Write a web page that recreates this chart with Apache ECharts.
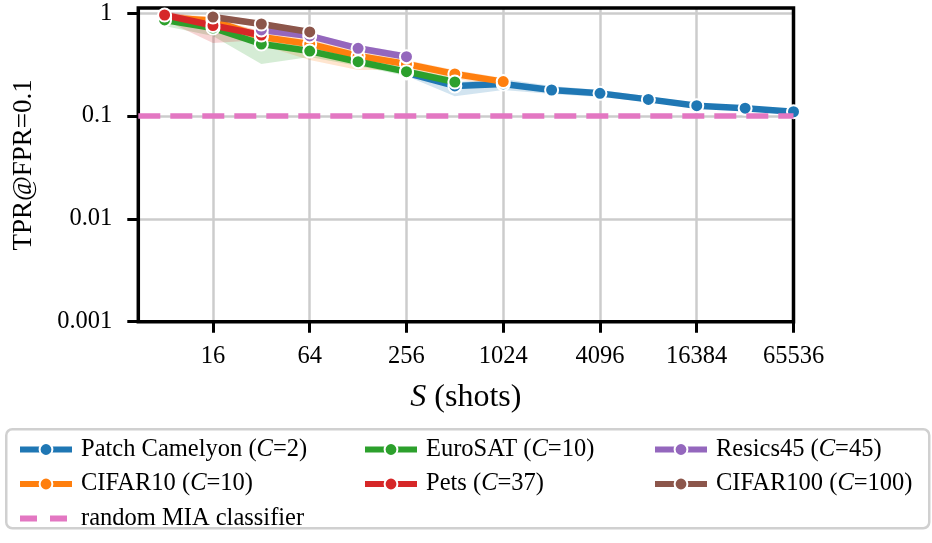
<!DOCTYPE html>
<html><head><meta charset="utf-8">
<script src="https://cdn.jsdelivr.net/npm/echarts@6/dist/echarts.min.js"></script>
<style>html,body{margin:0;padding:0;background:#fff}#c{width:932px;height:543px}</style>
</head><body><div id="c"></div>
<script>
// ---- axis ticks ----
const xTickLabels = ['16', '64', '256', '1024', '4096', '16384', '65536'];
const yTickLabels = ['0.001', '0.01', '0.1', '1'];
const xMin = 5.49, xMax = 65536, yMin = 0.001, yMax = 1.122;
const randomLevel = 0.1;

// ---- series (S = shots, TPR@FPR=0.1) ----
const seriesNames = ['Patch Camelyon', 'CIFAR10', 'EuroSAT', 'Pets', 'Resics45', 'CIFAR100'];
const classCounts = [2, 10, 10, 37, 45, 100];
const colors = ['#1f77b4', '#ff7f0e', '#2ca02c', '#d62728', '#9467bd', '#8c564b'];
const randomColor = '#e377c2';

const pcamShots = [256, 512, 1024, 2048, 4096, 8192, 16384, 32768, 65536];
const pcamTpr   = [0.262, 0.196, 0.205, 0.179, 0.166, 0.145, 0.126, 0.119, 0.110];
const pcamLow   = [0.245, 0.156, 0.179, 0.164, 0.153, 0.137, 0.120, 0.112, 0.104];
const pcamHigh  = [0.280, 0.214, 0.229, 0.196, 0.179, 0.156, 0.134, 0.125, 0.117];

const cifar10Shots = [8, 16, 32, 64, 128, 256, 512, 1024];
const cifar10Tpr   = [0.907, 0.848, 0.586, 0.501, 0.383, 0.320, 0.256, 0.216];
const cifar10Low   = [0.802, 0.750, 0.490, 0.350, 0.280, 0.280, 0.229, 0.196];
const cifar10High  = [1.003, 0.917, 0.656, 0.561, 0.428, 0.350, 0.280, 0.234];

const eurosatShots = [8, 16, 32, 64, 128, 256, 512];
const eurosatTpr   = [0.858, 0.717, 0.501, 0.428, 0.337, 0.270, 0.214];
const eurosatLow   = [0.750, 0.600, 0.320, 0.375, 0.306, 0.245, 0.196];
const eurosatHigh  = [0.938, 0.784, 0.548, 0.469, 0.366, 0.293, 0.234];

const petsShots = [8, 16, 32];
const petsTpr   = [0.959, 0.758, 0.613];
const petsLow   = [0.858, 0.513, 0.548];
const petsHigh  = [1.049, 0.858, 0.671];

const resicsShots = [32, 64, 128, 256];
const resicsTpr   = [0.686, 0.600, 0.455, 0.377];
const resicsLow   = [0.641, 0.561, 0.428, 0.350];
const resicsHigh  = [0.733, 0.641, 0.490, 0.410];

const cifar100Shots = [16, 32, 64];
const cifar100Tpr   = [0.917, 0.784, 0.656];
const cifar100Low   = [0.858, 0.733, 0.613];
const cifar100High  = [0.981, 0.839, 0.701];

const allShots = [pcamShots, cifar10Shots, eurosatShots, petsShots, resicsShots, cifar100Shots];
const allTpr   = [pcamTpr, cifar10Tpr, eurosatTpr, petsTpr, resicsTpr, cifar100Tpr];
const allLow   = [pcamLow, cifar10Low, eurosatLow, petsLow, resicsLow, cifar100Low];
const allHigh  = [pcamHigh, cifar10High, eurosatHigh, petsHigh, resicsHigh, cifar100High];

// ---- build ----
const FONT = 'Liberation Serif';
const xTickVals = xTickLabels.map(s => Math.log2(Number(s)));
const yTickVals = yTickLabels.map(s => Math.log10(Number(s)));
function pickLabel(vals, labels) {
  return v => { const i = vals.findIndex(t => Math.abs(t - v) < 1e-6); return i >= 0 ? labels[i] : ''; };
}

const series = [];
seriesNames.forEach((name, k) => {
  const shots = allShots[k], low = allLow[k], high = allHigh[k], color = colors[k];
  series.push({
    type: 'custom', xAxisIndex: 0, yAxisIndex: 0, z: 1, silent: true, clip: true,
    data: [[shots[0], allTpr[k][0]]],
    renderItem: (params, api) => {
      const pts = [];
      for (let i = 0; i < shots.length; i++) pts.push(api.coord([shots[i], high[i]]));
      for (let i = shots.length - 1; i >= 0; i--) pts.push(api.coord([shots[i], low[i]]));
      return { type: 'polygon', shape: { points: pts }, style: { fill: color, opacity: 0.2 } };
    }
  });
});
seriesNames.forEach((name, k) => {
  series.push({
    name, type: 'line', xAxisIndex: 0, yAxisIndex: 0, z: 3,
    data: allShots[k].map((s, i) => [s, allTpr[k][i]]),
    symbol: 'circle', symbolSize: 13, showSymbol: true,
    lineStyle: { width: 6.5, color: colors[k] },
    itemStyle: { color: colors[k], borderColor: '#fff', borderWidth: 2 },
    emphasis: { disabled: true }
  });
});
series.push({
  name: 'random MIA classifier', type: 'line', xAxisIndex: 0, yAxisIndex: 0, z: 4,
  data: [[xMin, randomLevel], [xMax, randomLevel]],
  symbol: 'none', lineStyle: { width: 5.5, color: randomColor, type: [22, 10] },
  itemStyle: { color: randomColor }, emphasis: { disabled: true }
});

const LFS = 24.5;
const richStyles = {
  n: { fontFamily: FONT, fontSize: LFS, color: '#000' },
  i: { fontFamily: FONT, fontSize: LFS, color: '#000', fontStyle: 'italic' }
};
function legendFormatter(name) {
  const k = seriesNames.indexOf(name);
  if (k < 0) return '{n|' + name + '}';
  return '{n|' + name + ' (}{i|C}{n|=' + classCounts[k] + ')}';
}
const legendBase = {
  orient: 'vertical', top: 432, itemWidth: 52, itemHeight: 16, itemGap: 9.5,
  selectedMode: false, formatter: legendFormatter,
  lineStyle: { width: 6 },
  textStyle: { fontFamily: FONT, fontSize: LFS, color: '#000', padding: [0, 0, 0, 4], rich: richStyles }
};

const option = {
  animation: false,
  backgroundColor: '#fff',
  grid: { left: 138.3, right: 138.5, top: 8, bottom: 221.3, show: true, borderColor: '#000', borderWidth: 3.5, backgroundColor: 'transparent', z: 1 },
  xAxis: [
    { type: 'log', logBase: 2, min: xMin, max: xMax, show: false },
    {
      type: 'value', position: 'bottom', min: Math.log2(xMin), max: Math.log2(xMax),
      axisLine: { show: false },
      axisTick: { show: true, customValues: xTickVals, length: 11, lineStyle: { color: '#000', width: 3 } },
      axisLabel: { customValues: xTickVals, formatter: pickLabel(xTickVals, xTickLabels), margin: 22, fontFamily: FONT, fontSize: 24.5, color: '#000' },
      splitLine: { show: true, lineStyle: { color: '#cccccc', width: 2.5 } },
      name: '{i|S}{n| (shots)}', nameLocation: 'middle', nameGap: 60,
      nameTextStyle: { rich: { i: { fontFamily: FONT, fontSize: 32, fontStyle: 'italic', color: '#000' }, n: { fontFamily: FONT, fontSize: 32, color: '#000' } } }
    }
  ],
  yAxis: [
    { type: 'log', logBase: 10, min: yMin, max: yMax, show: false },
    {
      type: 'value', position: 'left', min: Math.log10(yMin), max: Math.log10(yMax),
      axisLine: { show: false },
      axisTick: { show: true, customValues: yTickVals, length: 11, lineStyle: { color: '#000', width: 3 } },
      axisLabel: { customValues: yTickVals, formatter: pickLabel(yTickVals, yTickLabels), margin: 26, fontFamily: FONT, fontSize: 24.5, color: '#000' },
      splitLine: { show: true, lineStyle: { color: '#cccccc', width: 2.5 } },
      name: 'TPR@FPR=0.1', nameLocation: 'middle', nameGap: 101, nameRotate: 90,
      nameTextStyle: { fontFamily: FONT, fontSize: 27, color: '#000' }
    }
  ],
  legend: [
    Object.assign({}, legendBase, { left: 12, data: ['Patch Camelyon', 'CIFAR10',
      { name: 'random MIA classifier', itemStyle: { opacity: 0 }, lineStyle: { type: [17, 13], width: 6 } }] }),
    Object.assign({}, legendBase, { left: 357, data: ['EuroSAT', 'Pets'] }),
    Object.assign({}, legendBase, { left: 647, data: ['Resics45', 'CIFAR100'] })
  ],
  graphic: [{
    type: 'rect', left: 5, top: 428, z: -10,
    shape: { width: 923, height: 99, r: 6 },
    style: { fill: '#fff', stroke: '#d0d0d0', lineWidth: 2.5 }
  }],
  series
};
const chart = echarts.init(document.getElementById('c'), null, { renderer: 'canvas' });
chart.setOption(option);
</script></body></html>
